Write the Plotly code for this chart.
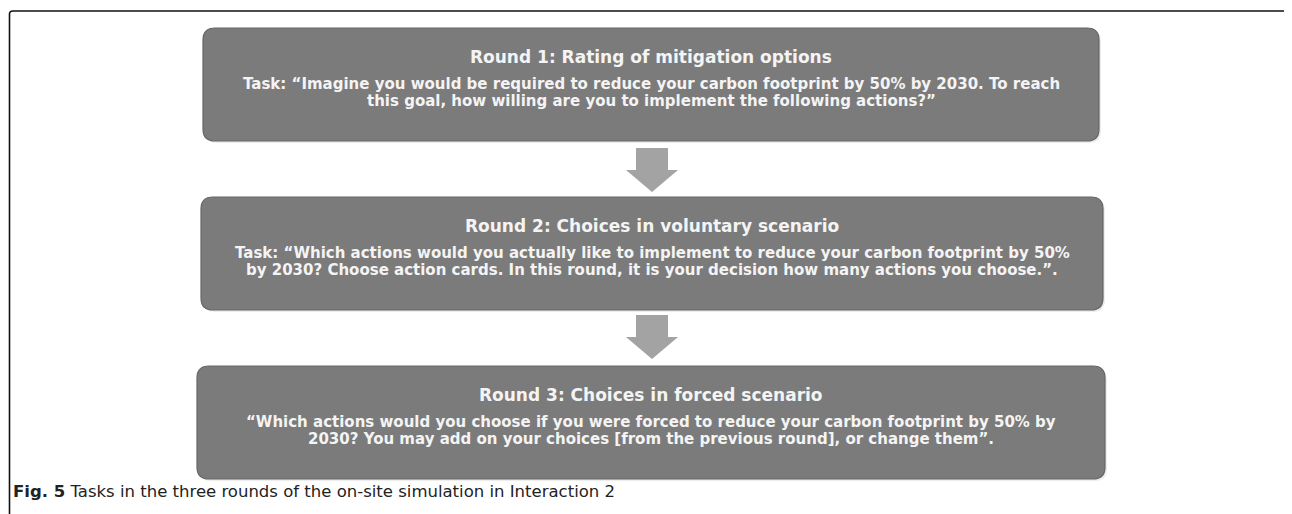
import plotly.graph_objects as go

# ---- content ----
titles = [
    "Round 1: Rating of mitigation options",
    "Round 2: Choices in voluntary scenario",
    "Round 3: Choices in forced scenario",
]
body_line1 = [
    "Task: \u201cImagine you would be required to reduce your carbon footprint by 50% by 2030. To reach",
    "Task: \u201cWhich actions would you actually like to implement to reduce your carbon footprint by 50%",
    "\u201cWhich actions would you choose if you were forced to reduce your carbon footprint by 50% by",
]
body_line2 = [
    "this goal, how willing are you to implement the following actions?\u201d",
    "by 2030? Choose action cards. In this round, it is your decision how many actions you choose.\u201d.",
    "2030? You may add on your choices [from the previous round], or change them\u201d.",
]
caption_bold = "Fig. 5"
caption_text = " Tasks in the three rounds of the on-site simulation in Interaction 2"

# ---- layout (pixel coordinates of the picture) ----
W, H = 1292, 514
OFF = 8  # page body margin
box_left = [203, 201, 197]
box_right = [1099, 1103, 1105]
box_top = [28, 197, 366]
box_h = 113
radius = 12
title_dy = 29
line1_dy = 55.5
line2_dy = 73
arrows_top = [148, 315]
arrow_cx = 652
shaft_half = 16
head_half = 26
shaft_len = 22
head_len = 22

BOX_FILL = "#7b7b7b"
BOX_LINE = "#666666"
TEXT_COL = "#f4f4f4"
ARROW_COL = "#a3a3a3"
BOX_FONT = "DejaVu Sans"


def rounded_rect(x0, y0, x1, y1, r):
    return (f"M {x0+r},{y0} L {x1-r},{y0} Q {x1},{y0} {x1},{y0+r} "
            f"L {x1},{y1-r} Q {x1},{y1} {x1-r},{y1} L {x0+r},{y1} "
            f"Q {x0},{y1} {x0},{y1-r} L {x0},{y0+r} Q {x0},{y0} {x0+r},{y0} Z")


fig = go.Figure()
shapes = []
annotations = []

# outer frame (left and top lines with rounded top-right corner)
shapes.append(dict(type="path", xref="x", yref="y",
                   path=f"M 9.5,{H+OFF} L 9.5,14 Q 9.5,11 13,11 L 1284,11 Q 1289,11 1292,16",
                   line=dict(color="#111111", width=1.6)))

for i in range(3):
    x0, x1 = box_left[i], box_right[i]
    y0 = box_top[i]
    y1 = y0 + box_h
    shapes.append(dict(type="path", xref="x", yref="y",
                       path=rounded_rect(x0 + 2, y0 + 2, x1 + 2, y1 + 2, radius),
                       fillcolor="rgba(0,0,0,0.07)", line=dict(width=0)))
    shapes.append(dict(type="path", xref="x", yref="y",
                       path=rounded_rect(x0, y0, x1, y1, radius),
                       fillcolor=BOX_FILL, line=dict(color=BOX_LINE, width=1.2)))
    cx = (x0 + x1) / 2
    annotations.append(dict(x=cx, y=y0 + title_dy, xref="x", yref="y",
                            text=f"<b>{titles[i]}</b>", showarrow=False,
                            font=dict(family=BOX_FONT, size=17, color=TEXT_COL),
                            xanchor="center", yanchor="middle"))
    for dy, txt in ((line1_dy, body_line1[i]), (line2_dy, body_line2[i])):
        annotations.append(dict(x=cx, y=y0 + dy, xref="x", yref="y",
                                text=f"<b>{txt}</b>", showarrow=False,
                                font=dict(family=BOX_FONT, size=15, color=TEXT_COL),
                                xanchor="center", yanchor="middle", borderpad=0))

for t in arrows_top:
    c = arrow_cx
    p = (f"M {c-shaft_half},{t} L {c+shaft_half},{t} L {c+shaft_half},{t+shaft_len} "
         f"L {c+head_half},{t+shaft_len} L {c},{t+shaft_len+head_len} "
         f"L {c-head_half},{t+shaft_len} L {c-shaft_half},{t+shaft_len} Z")
    shapes.append(dict(type="path", xref="x", yref="y", path=p,
                       fillcolor=ARROW_COL, line=dict(width=0)))

annotations.append(dict(x=11, y=491, xref="x", yref="y",
                        text=f"<b>{caption_bold}</b>{caption_text}", showarrow=False,
                        font=dict(family="DejaVu Sans", size=16.5, color="#222222"),
                        xanchor="left", yanchor="middle"))

fig.update_layout(
    width=W, height=H,
    margin=dict(l=0, r=0, t=0, b=0),
    paper_bgcolor="white", plot_bgcolor="white",
    xaxis=dict(range=[OFF, W + OFF], visible=False, fixedrange=True),
    yaxis=dict(range=[H + OFF, OFF], visible=False, fixedrange=True),
    shapes=shapes, annotations=annotations,
    showlegend=False,
)

fig.write_html("out.html")
